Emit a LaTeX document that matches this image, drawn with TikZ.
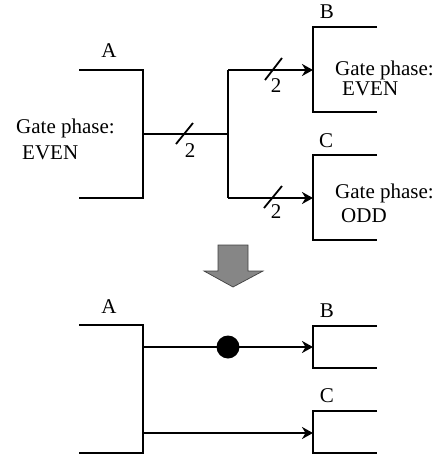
\documentclass[tikz,border=0pt]{standalone}
\usepackage{fontspec}
\setmainfont{Liberation Serif}
\usetikzlibrary{arrows.meta}
\tikzset{
  wire/.style={line width=2.1pt},
  conn/.style={line width=2.1pt,-{Stealth[length=11pt,width=12pt,inset=3.5pt]}},
  bus/.style={line width=1.8pt},
  txt/.style={inner sep=0pt,anchor=base west,font=\fontsize{21}{23}\selectfont},
  lbl/.style={inner sep=0pt,anchor=base,font=\fontsize{21}{23}\selectfont},
  bigarrow/.style={fill=gray!95,draw=black!75,line width=0.7pt}
}
\begin{document}
\begin{tikzpicture}[x=1pt,y=-1pt]
\useasboundingbox (0,0) rectangle (439,458);
% ---------- top diagram ----------
\coordinate (Atl) at (79,70);
\coordinate (Atr) at (143,70);
\coordinate (Abr) at (143,198);
\coordinate (Abl) at (79,198);
\coordinate (Amid) at (143,134);
\coordinate (J) at (228,134);
\coordinate (Jt) at (228,70);
\coordinate (Jb) at (228,198);
\coordinate (Btr) at (377,27);
\coordinate (Btl) at (313,27);
\coordinate (Bbl) at (313,112);
\coordinate (Bbr) at (377,112);
\coordinate (Bin) at (313,70);
\coordinate (Ctr) at (377,155);
\coordinate (Ctl) at (313,155);
\coordinate (Cbl) at (313,240);
\coordinate (Cbr) at (377,240);
\coordinate (Cin) at (313,198);

\draw[wire] (Atl) -- (Atr) -- (Abr) -- (Abl);
\draw[wire] (Amid) -- (J);
\draw[wire] (Jt) -- (Jb);
\draw[wire] (Btr) -- (Btl) -- (Bbl) -- (Bbr);
\draw[wire] (Ctr) -- (Ctl) -- (Cbl) -- (Cbr);
\draw[conn] (Jt) -- (Bin);
\draw[conn] (Jb) -- (Cin);

% bus slashes
\draw[bus] (176,144) -- (193,123);
\draw[bus] (265,80) -- (282,58);
\draw[bus] (264,208) -- (282,186);

\node[lbl] (n2a) at (190,157) {2};
\node[lbl] (n2b) at (276,92) {2};
\node[lbl] (n2c) at (276,218) {2};

\node[lbl] (LA) at (109,57) {A};
\node[lbl] (LB) at (327,18) {B};
\node[lbl] (LC) at (326,147) {C};

\node[txt] (gA1) at (16,133) {Gate phase:};
\node[txt] (gA2) at (22,159) {EVEN};
\node[txt] (gB1) at (335,75) {Gate phase:};
\node[txt] (gB2) at (342,95) {EVEN};
\node[txt] (gC1) at (335,198) {Gate phase:};
\node[txt] (gC2) at (341,222) {ODD};

% ---------- big arrow ----------
\draw[bigarrow] (218,245) -- (248,245) -- (248,271) -- (263,271) -- (233,287)
  -- (204,271) -- (218,271) -- cycle;

% ---------- bottom diagram ----------
\coordinate (atl) at (79,325);
\coordinate (atr) at (143,325);
\coordinate (abr) at (143,453);
\coordinate (abl) at (79,453);
\coordinate (a1) at (143,347);
\coordinate (a2) at (143,433);
\coordinate (btr) at (377,326);
\coordinate (btl) at (313,326);
\coordinate (bbl) at (313,368);
\coordinate (bbr) at (377,368);
\coordinate (bin) at (313,347);
\coordinate (ctr) at (377,411);
\coordinate (ctl) at (313,411);
\coordinate (cbl) at (313,453);
\coordinate (cbr) at (377,453);
\coordinate (cin) at (313,433);

\draw[wire] (atl) -- (atr) -- (abr) -- (abl);
\draw[wire] (btr) -- (btl) -- (bbl) -- (bbr);
\draw[wire] (ctr) -- (ctl) -- (cbl) -- (cbr);
\draw[conn] (a1) -- (bin);
\draw[conn] (a2) -- (cin);
\node[circle,fill=black,inner sep=0pt,minimum size=23pt] (dot) at (228,347) {};

\node[lbl] (la) at (109,313) {A};
\node[lbl] (lb) at (327,317) {B};
\node[lbl] (lc) at (327,402) {C};
\end{tikzpicture}
\end{document}
